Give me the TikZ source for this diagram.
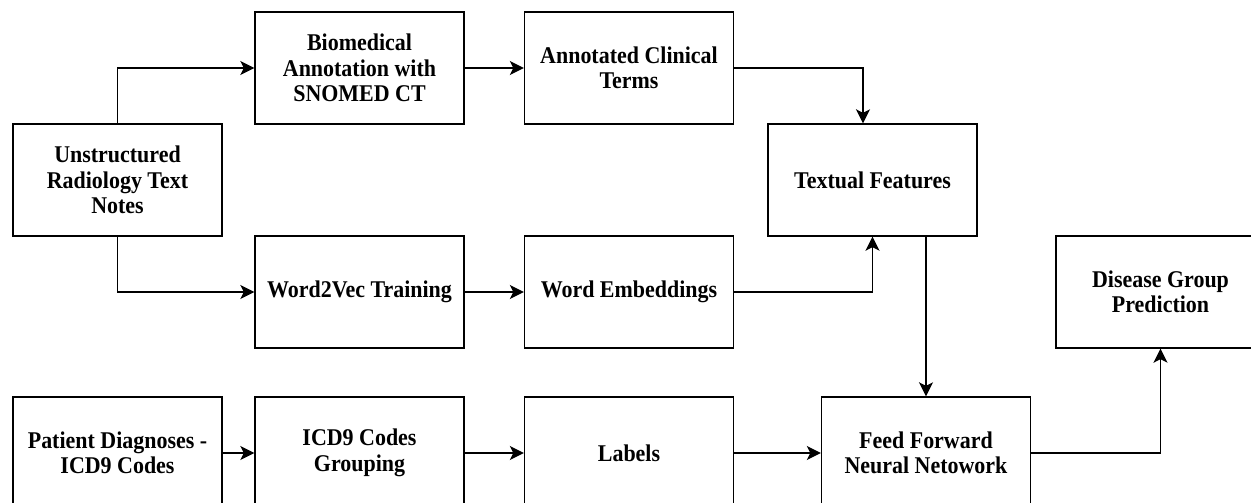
\documentclass[tikz,border=0pt]{standalone}
\usepackage{fontspec}
\setmainfont{Liberation Serif}[FakeStretch=0.915]
\usetikzlibrary{arrows.meta}
\begin{document}
\begin{tikzpicture}[x=1pt,y=-1pt,
  box/.style={draw=black, line width=1.4pt, minimum width=209pt, minimum height=112pt,
    inner sep=0pt, align=center, font=\fontsize{24pt}{25.5pt}\selectfont\bfseries},
  conn/.style={line width=1.4pt, -{Stealth[length=14pt,width=14pt,inset=3.5pt]}}]
\useasboundingbox (0,0) rectangle (1251,503);
\node[box] (unstr) at (117.5,180) {Unstructured\\Radiology Text\\Notes};
\node[box] (bio) at (359.5,68) {Biomedical\\Annotation with\\SNOMED CT};
\node[box] (ann) at (629,68) {Annotated Clinical\\Terms};
\node[box] (textf) at (872.5,180) {Textual Features};
\node[box] (w2v) at (359.5,292) {Word2Vec Training};
\node[box] (emb) at (629,292) {Word Embeddings};
\node[box] (dis) at (1160.5,292) {Disease Group\\Prediction};
\node[box] (pat) at (117.5,453) {Patient Diagnoses -\\ICD9 Codes};
\node[box] (grp) at (359.5,453) {ICD9 Codes\\Grouping};
\node[box] (lab) at (629,453) {Labels};
\node[box] (ffn) at (926,453) {Feed Forward\\Neural Netowork};
\coordinate (tin) at ([xshift=-9.5pt]textf.north);
\coordinate (tout) at (textf.south -| ffn.north);
\draw[conn] (unstr.north) |- (bio.west);
\draw[conn] (unstr.south) |- (w2v.west);
\draw[conn] (bio) -- (ann);
\draw[conn] (ann.east) -| (tin);
\draw[conn] (w2v) -- (emb);
\draw[conn] (emb.east) -| (textf.south);
\draw[conn] (tout) -- (ffn.north);
\draw[conn] (pat) -- (grp);
\draw[conn] (grp) -- (lab);
\draw[conn] (lab) -- (ffn);
\draw[conn] (ffn.east) -| (dis.south);
\end{tikzpicture}
\end{document}
